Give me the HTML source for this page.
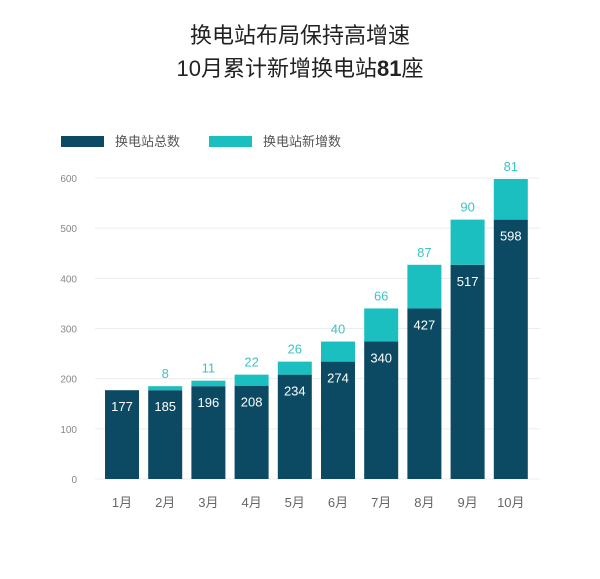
<!DOCTYPE html>
<html><head><meta charset="utf-8"><style>
body{margin:0;background:#fff;width:600px;height:574px;overflow:hidden;font-family:"Liberation Sans","Noto Sans CJK SC",sans-serif;}
</style></head><body>
<svg width="600" height="574" xmlns="http://www.w3.org/2000/svg" font-family="Liberation Sans, Noto Sans CJK SC, sans-serif">
<text x="300" y="43" text-anchor="middle" font-size="22" fill="#222">换电站布局保持高增速</text>
<text x="300" y="76" text-anchor="middle" font-size="22" fill="#222">10月累计新增换电站<tspan font-weight="bold">81</tspan>座</text>
<rect x="61" y="136" width="43" height="11" fill="#0b4a62"/>
<text x="115" y="146" font-size="13" fill="#555">换电站总数</text>
<rect x="209" y="136" width="43" height="11" fill="#1bbfbf"/>
<text x="263" y="146" font-size="13" fill="#555">换电站新增数</text>
<g id="grid"></g><g id="bars"></g>
</svg>
<script>
const months=["1月","2月","3月","4月","5月","6月","7月","8月","9月","10月"];
const totals=[177,185,196,208,234,274,340,427,517,598];
const adds=[0,8,11,22,26,40,66,87,90,81];
const yTicks=[0,100,200,300,400,500,600];
const NS="http://www.w3.org/2000/svg";
const y=v=>479-v*(301/600);
const x=i=>105+i*43.2;
const bw=34;
function mk(t,a,p){const e=document.createElementNS(NS,t);for(const k in a)e.setAttribute(k,a[k]);p.appendChild(e);return e;}
const g=document.getElementById("grid"),b=document.getElementById("bars");
yTicks.forEach(v=>{
 const l=mk("line",{x1:95,x2:540,y1:y(v),y2:y(v),stroke:"#ececec","stroke-width":1},g);
 
 
 const t=mk("text",{x:77,y:y(v)+4,"text-anchor":"end","font-size":10,fill:"#888"},g);
 t.textContent=v;
 
 
});
months.forEach((m,i)=>{
 const base=totals[i]-adds[i];
 const d=mk("rect",{x:x(i),y:y(base),width:bw,height:y(0)-y(base),fill:"#0b4a62"},b);
 
 
 if(adds[i]>0){
  const n=mk("rect",{x:x(i),y:y(totals[i]),width:bw,height:y(base)-y(totals[i]),fill:"#1bbfbf"},b);
  
  
  const nl=mk("text",{x:x(i)+bw/2,y:y(totals[i])-8,"text-anchor":"middle","font-size":13,fill:"#3cc4c4"},b);
  nl.textContent=adds[i];
  
  
 }
 const tl=mk("text",{x:x(i)+bw/2,y:y(base)+21,"text-anchor":"middle","font-size":13,fill:"#fff"},b);
 tl.textContent=totals[i];
 
 
 const ml=mk("text",{x:x(i)+bw/2,y:507,"text-anchor":"middle","font-size":13,fill:"#666"},b);
 ml.textContent=m;
 
 
});
</script>
</body></html>
